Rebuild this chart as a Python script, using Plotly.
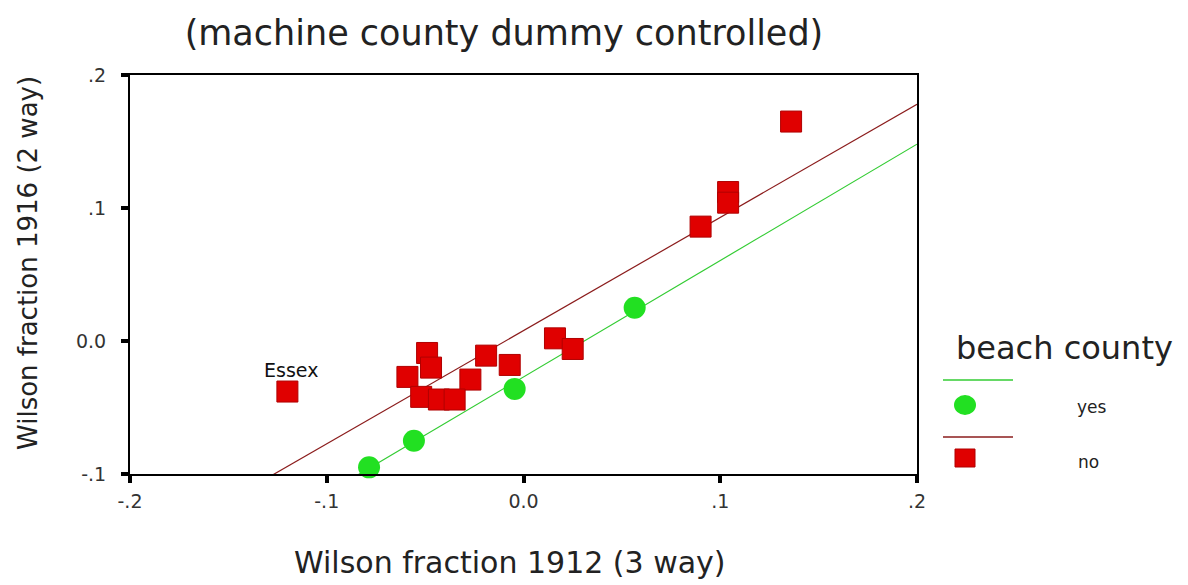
import plotly.graph_objects as go

# ---- data ----
no_x = [-0.120, 0.136, 0.104, 0.104, 0.090, 0.016, 0.025, -0.019, -0.007,
        -0.049, -0.047, -0.059, -0.027, -0.052, -0.043, -0.035]
no_y = [-0.038, 0.165, 0.112, 0.104, 0.086, 0.002, -0.006, -0.011, -0.018,
        -0.009, -0.020, -0.027, -0.029, -0.042, -0.044, -0.044]
no_labels = ["Essex"] + [""] * 15

yes_x = [0.0565, -0.0045, -0.0557, -0.0785]
yes_y = [0.025, -0.036, -0.075, -0.095]

# fitted lines (slope, intercept) per group
no_fit = (0.851, 0.0078)
yes_fit = (0.875, -0.027)
fit_x = [-0.2, 0.2]

x_ticks = [-0.2, -0.1, 0.0, 0.1, 0.2]
x_ticktext = ["-.2", "-.1", "0.0", ".1", ".2"]
y_ticks = [-0.1, 0.0, 0.1, 0.2]
y_ticktext = ["-.1", "0.0", ".1", ".2"]

title_text = "(machine county dummy controlled)"
x_title = "Wilson fraction 1912 (3 way)"
y_title = "Wilson fraction 1916 (2 way)"
legend_title = "beach county"
group_names = ["yes", "no"]

RED = "#e00000"
RED_EDGE = "#b00000"
RED_LINE = "#8b1c1c"
GREEN = "#22e022"
GREEN_LINE = "#33cc33"
FONT = "DejaVu Sans"

fig = go.Figure()

fig.add_trace(go.Scatter(
    x=fit_x, y=[no_fit[0] * v + no_fit[1] for v in fit_x],
    mode="lines", line=dict(color=RED_LINE, width=1.2), showlegend=False,
    hoverinfo="skip"))
fig.add_trace(go.Scatter(
    x=fit_x, y=[yes_fit[0] * v + yes_fit[1] for v in fit_x],
    mode="lines", line=dict(color=GREEN_LINE, width=1.2), showlegend=False,
    hoverinfo="skip"))

fig.add_trace(go.Scatter(
    x=yes_x, y=yes_y, mode="markers", name=group_names[0],
    marker=dict(symbol="circle", size=22, color=GREEN,
                line=dict(color=GREEN, width=0)),
    cliponaxis=False, showlegend=False))
fig.add_trace(go.Scatter(
    x=no_x, y=no_y, mode="markers", name=group_names[1],
    marker=dict(symbol="square", size=21, color=RED,
                line=dict(color=RED_EDGE, width=1)),
    cliponaxis=False, showlegend=False))

annotations = []
for xv, yv, lab in zip(no_x, no_y, no_labels):
    if lab:
        annotations.append(dict(
            x=xv, y=yv, xref="x", yref="y", text=lab, showarrow=False,
            yshift=22, xshift=4, font=dict(family=FONT, size=19, color="#111")))

# axis titles
annotations.append(dict(
    x=0.483, y=-0.2206, xref="paper", yref="paper", text=x_title,
    showarrow=False, xanchor="center", yanchor="middle",
    font=dict(family=FONT, size=30, color="#222")))
annotations.append(dict(
    x=-0.1296, y=0.529, xref="paper", yref="paper", text=y_title,
    showarrow=False, xanchor="center", yanchor="middle", textangle=-90,
    font=dict(family=FONT, size=26, color="#222")))

# custom legend
annotations.append(dict(
    x=1.1868, y=0.3158, xref="paper", yref="paper", text=legend_title,
    showarrow=False, xanchor="center", yanchor="middle",
    font=dict(family=FONT, size=32, color="#222")))
annotations.append(dict(
    x=1.2224, y=0.1679, xref="paper", yref="paper", text=group_names[0],
    showarrow=False, xanchor="center", yanchor="middle",
    font=dict(family=FONT, size=17, color="#222")))
annotations.append(dict(
    x=1.2173, y=0.0301, xref="paper", yref="paper", text=group_names[1],
    showarrow=False, xanchor="center", yanchor="middle",
    font=dict(family=FONT, size=17, color="#222")))

shapes = [
    dict(type="line", xref="paper", yref="paper", x0=1.0330, x1=1.1220,
         y0=0.2356, y1=0.2356, line=dict(color=GREEN_LINE, width=1.5)),
    dict(type="circle", xref="paper", yref="paper", xsizemode="pixel",
         ysizemode="pixel", xanchor=1.0610, yanchor=0.1729,
         x0=-11, x1=11, y0=-10, y1=10, fillcolor=GREEN,
         line=dict(color=GREEN, width=0)),
    dict(type="line", xref="paper", yref="paper", x0=1.0330, x1=1.1220,
         y0=0.0927, y1=0.0927, line=dict(color=RED_LINE, width=1.5)),
    dict(type="rect", xref="paper", yref="paper", xsizemode="pixel",
         ysizemode="pixel", xanchor=1.0610, yanchor=0.0401,
         x0=-10, x1=10, y0=-9, y1=9, fillcolor=RED,
         line=dict(color=RED_EDGE, width=1)),
]

axis_common = dict(
    showgrid=False, zeroline=False, showline=True, linecolor="black",
    linewidth=2, mirror=True, ticks="outside", ticklen=7, tickwidth=4,
    tickcolor="black", tickfont=dict(family=FONT, size=19, color="#333"),
)

# page body has an 8px margin, so the figure is sized to fit the window
fig.update_layout(
    width=1180, height=577,
    margin=dict(l=122, r=271, t=67, b=111),
    paper_bgcolor="white", plot_bgcolor="white",
    showlegend=False,
    title=dict(text=title_text, x=0.4203, xanchor="center", y=0.9567,
               yanchor="middle",
               font=dict(family=FONT, size=35, color="#222")),
    xaxis=dict(range=[-0.2, 0.2], tickvals=x_ticks, ticktext=x_ticktext,
               ticklabelstandoff=2, **axis_common),
    yaxis=dict(range=[-0.1, 0.2], tickvals=y_ticks, ticktext=y_ticktext,
               ticklabelstandoff=11, **axis_common),
    annotations=annotations,
    shapes=shapes,
)

fig.write_html("out.html")
